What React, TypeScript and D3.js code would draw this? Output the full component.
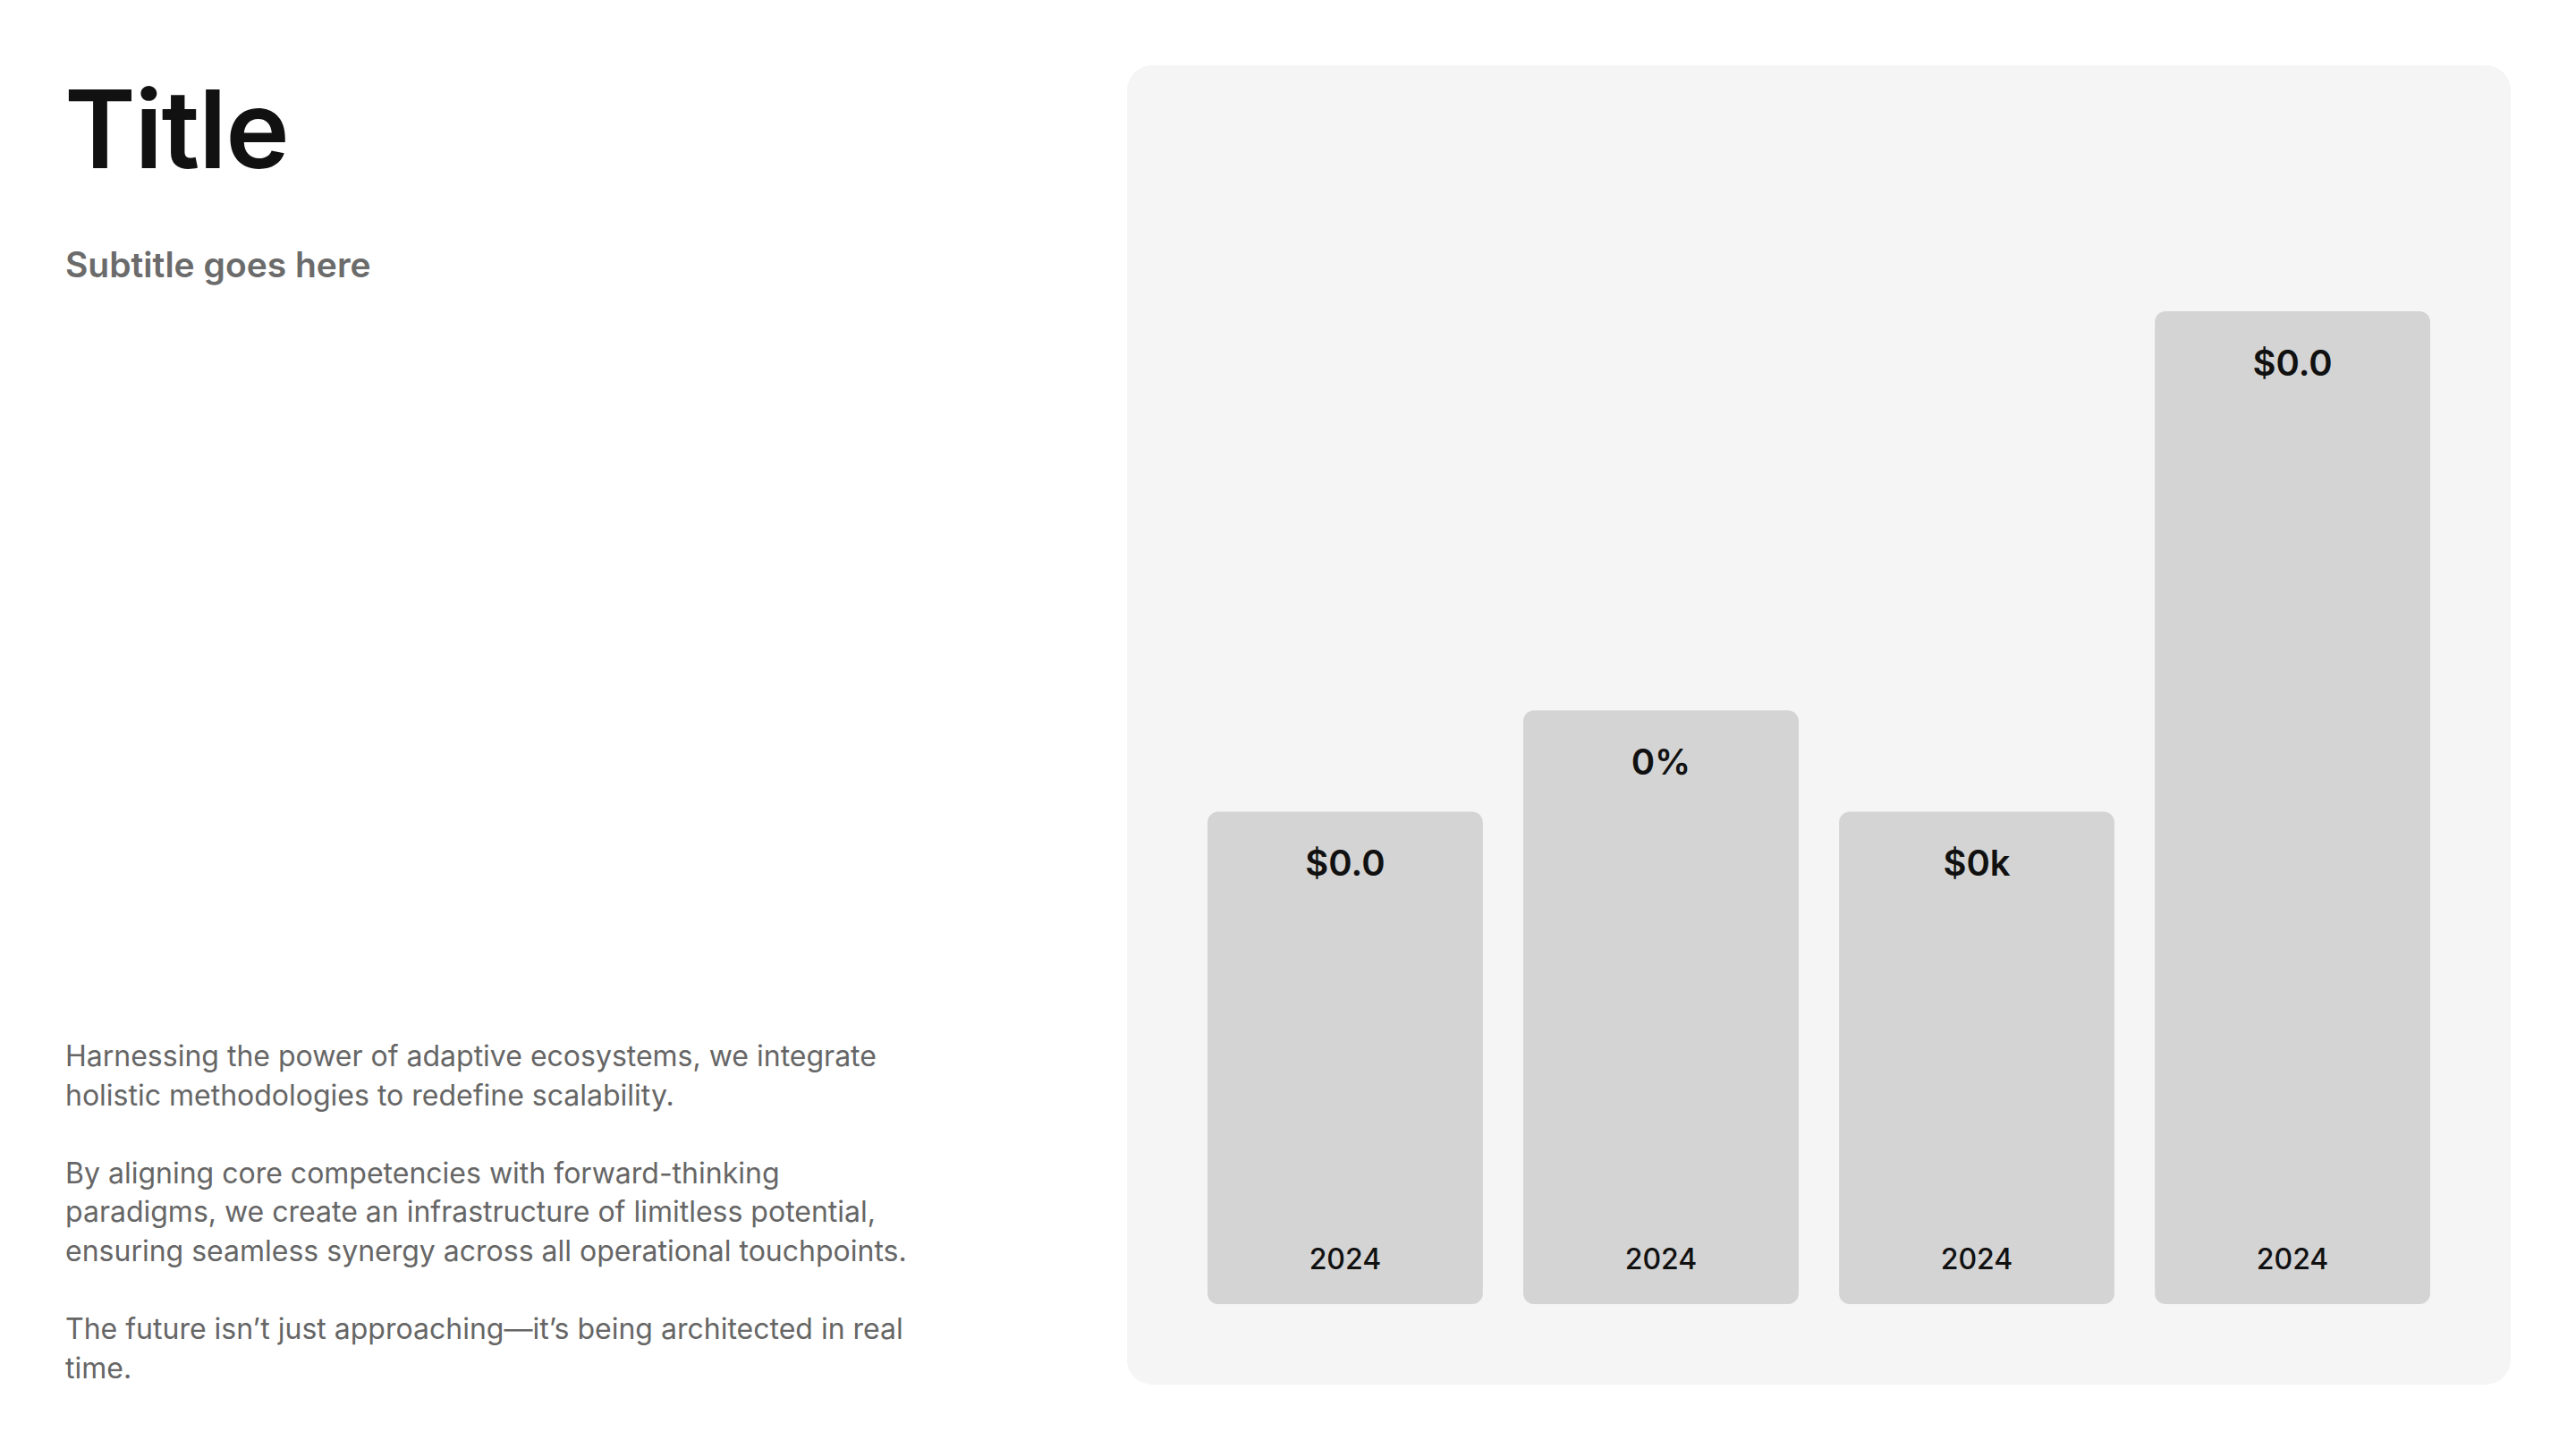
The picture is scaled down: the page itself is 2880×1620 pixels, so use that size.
import React from "react";
import * as d3 from "d3";

const categories = ["A", "B", "C", "D"];
const values = [49.6, 59.8, 49.6, 100];
const valueLabels = ["$0.0", "0%", "$0k", "$0.0"];
const yearLabels = ["2024", "2024", "2024", "2024"];
const title = "Title";
const subtitle = "Subtitle goes here";
const bodyLines = [
  "Harnessing the power of adaptive ecosystems, we integrate",
  "holistic methodologies to redefine scalability.",
  "",
  "By aligning core competencies with forward-thinking",
  "paradigms, we create an infrastructure of limitless potential,",
  "ensuring seamless synergy across all operational touchpoints.",
  "",
  "The future isn\u2019t just approaching\u2014it\u2019s being architected in real",
  "time.",
];

const W = 2880;
const H = 1620;
const FONT = "Inter, 'Noto Sans', sans-serif";

export default function App() {
  const panel = { x: 1260, y: 73, w: 1547, h: 1475, r: 28 };
  const pad = 90;
  const x = d3
    .scaleBand<string>()
    .domain(categories)
    .range([panel.x + pad, panel.x + panel.w - pad])
    .paddingInner(0.128)
    .paddingOuter(0);
  const y = d3
    .scaleLinear()
    .domain([0, 100])
    .range([panel.y + panel.h - pad, panel.y + 275]);
  const bw = x.bandwidth();
  const base = y(0);

  return (
    <svg
      width={W}
      height={H}
      viewBox={`0 0 ${W} ${H}`}
      style={{ position: "absolute", left: 0, top: 0, background: "#fff" }}
    >
      <rect x={0} y={0} width={W} height={H} fill="#ffffff" />
      <text x={72} y={188} fontFamily={FONT} fontSize={121} fontWeight={600} fill="#111111" letterSpacing={-1.5}>
        {title}
      </text>
      <text x={73} y={310} fontFamily={FONT} fontSize={39} fontWeight={600} fill="#6b6b6b">
        {subtitle}
      </text>
      <text fontFamily={FONT} fontSize={32} fontWeight={400} fill="#666666">
        {bodyLines.map((l, i) => (
          <tspan key={i} x={73} y={1192 + i * 43.6}>
            {l}
          </tspan>
        ))}
      </text>

      <rect x={panel.x} y={panel.y} width={panel.w} height={panel.h} rx={panel.r} ry={panel.r} fill="#f5f5f5" />

      {categories.map((c, i) => {
        const bx = x(c)!;
        const top = y(values[i]);
        const cx = bx + bw / 2;
        return (
          <g key={c}>
            <rect x={bx} y={top} width={bw} height={base - top} rx={12} ry={12} fill="#d4d4d4" />
            <text x={cx} y={top + 72} textAnchor="middle" fontFamily={FONT} fontSize={40} fontWeight={600} fill="#111111">
              {valueLabels[i]}
            </text>
            <text x={cx} y={base - 39} textAnchor="middle" fontFamily={FONT} fontSize={32} fontWeight={500} fill="#111111">
              {yearLabels[i]}
            </text>
          </g>
        );
      })}
    </svg>
  );
}
